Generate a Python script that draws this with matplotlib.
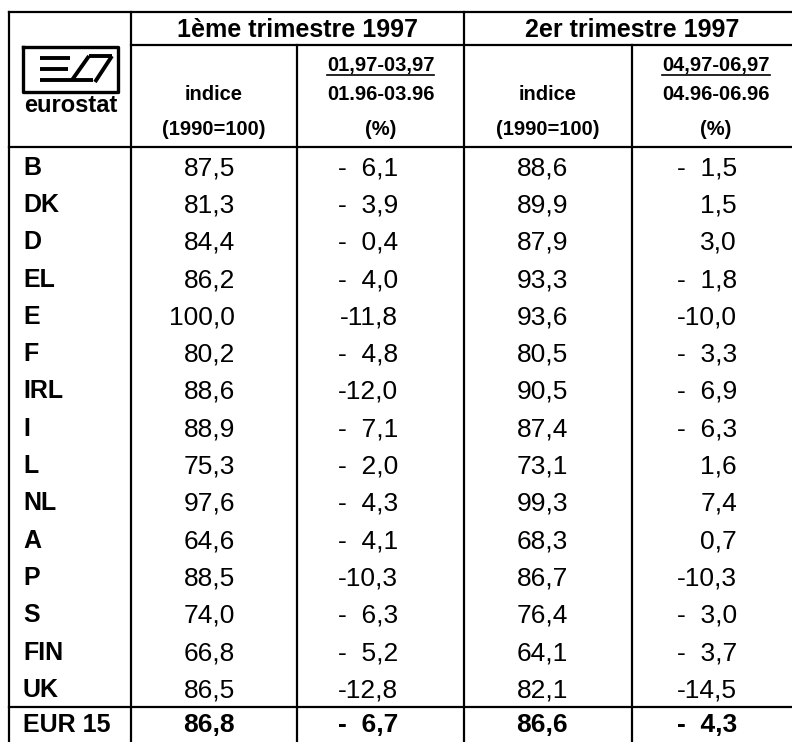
import matplotlib
matplotlib.use("Agg")
import matplotlib.pyplot as plt

plt.rcParams['font.family'] = ['Liberation Sans', 'DejaVu Sans']

# donnees
countries = ['B', 'DK', 'D', 'EL', 'E', 'F', 'IRL', 'I', 'L', 'NL', 'A', 'P', 'S', 'FIN', 'UK']
q1_index = [87.5, 81.3, 84.4, 86.2, 100.0, 80.2, 88.6, 88.9, 75.3, 97.6, 64.6, 88.5, 74.0, 66.8, 86.5]
q1_change = [-6.1, -3.9, -0.4, -4.0, -11.8, -4.8, -12.0, -7.1, -2.0, -4.3, -4.1, -10.3, -6.3, -5.2, -12.8]
q2_index = [88.6, 89.9, 87.9, 93.3, 93.6, 80.5, 90.5, 87.4, 73.1, 99.3, 68.3, 86.7, 76.4, 64.1, 82.1]
q2_change = [-1.5, 1.5, 3.0, -1.8, -10.0, -3.3, -6.9, -6.3, 1.6, 7.4, 0.7, -10.3, -3.0, -3.7, -14.5]
total_label = 'EUR 15'
total_values = [86.8, -6.7, 86.6, -4.3]

quarters = ['1ème trimestre 1997', '2er trimestre 1997']
periods = [('01,97-03,97', '01.96-03.96'), ('04,97-06,97', '04.96-06.96')]


def fmt_index(v):
    return f"{v:.1f}".replace('.', ',')


def fmt_change(v):
    if -10 < v < 0:
        return "-  " + f"{-v:.1f}".replace('.', ',')
    return f"{v:.1f}".replace('.', ',')


fig = plt.figure(figsize=(7.92, 7.42), dpi=100)
ax = fig.add_axes([0, 0, 1, 1])
ax.set_xlim(0, 792)
ax.set_ylim(742, 0)
ax.axis('off')

# grille (pixels)
cols = [9, 131, 297, 464, 632, 800]
y_top, y_mid, y_head = 12, 45, 147
pitch = 37.3
y_total = y_head + pitch * len(countries)
lw = 1.6


def txt(x, y, s, fs, ha='center', bold=False):
    # y = centre des majuscules
    return ax.text(x, y + fs * 0.5, s, fontsize=fs, ha=ha, va='baseline',
                   fontweight='bold' if bold else 'normal', color='black')


# lignes
ax.plot([cols[0], 792], [y_top, y_top], color='k', lw=lw)
ax.plot([cols[1], 792], [y_mid, y_mid], color='k', lw=lw)
ax.plot([cols[0], 792], [y_head, y_head], color='k', lw=lw)
ax.plot([cols[0], 792], [y_total, y_total], color='k', lw=lw)
for x in [cols[0], cols[1], cols[3]]:
    ax.plot([x, x], [y_top, 742], color='k', lw=lw)
for x in [cols[2], cols[4]]:
    ax.plot([x, x], [y_mid, 742], color='k', lw=lw)

# logo eurostat
ax.plot([23, 118, 118, 23, 23], [47, 47, 92, 92, 47], color='k', lw=2.4)
logo_lines = [([40, 70], [58, 58]), ([40, 68], [69, 69]), ([40, 93], [80, 80]),
              ([72, 89], [80, 56]), ([95, 112], [82, 56]), ([89, 112], [56, 56])]
for lx, ly in logo_lines:
    ax.plot(lx, ly, color='k', lw=2.8, solid_capstyle='butt')
txt(71, 103, 'eurostat', 17, bold=True)

# en-tetes
fig.canvas.draw()
renderer = fig.canvas.get_renderer()
inv = ax.transData.inverted()
for k, q in enumerate(quarters):
    xa, xb, xc = cols[1 + 2 * k], cols[2 + 2 * k], cols[3 + 2 * k]
    txt((xa + xc) / 2, 28, q, 18, bold=True)
    txt((xa + xb) / 2, 93, 'indice', 14.5, bold=True)
    txt((xa + xb) / 2, 128, '(1990=100)', 14.5, bold=True)
    t = txt((xb + xc) / 2, 64, periods[k][0], 14.5, bold=True)
    txt((xb + xc) / 2, 93, periods[k][1], 14.5, bold=True)
    txt((xb + xc) / 2, 128, '(%)', 14.5, bold=True)
    bb = t.get_window_extent(renderer)
    (x0, _), (x1, _) = inv.transform([(bb.x0, 0), (bb.x1, 0)])
    ax.plot([x0, x1], [74.5, 74.5], color='k', lw=1.2)

# valeurs
right = [235, 398, 568, 737]
fs = 19
for i, c in enumerate(countries):
    yc = y_head + pitch * (i + 0.5)
    txt(23, yc, c, 18, ha='left', bold=True)
    vals = [fmt_index(q1_index[i]), fmt_change(q1_change[i]),
            fmt_index(q2_index[i]), fmt_change(q2_change[i])]
    for x, s in zip(right, vals):
        txt(x, yc, s, fs, ha='right')

yc = y_total + 16
txt(23, yc, total_label, 18, ha='left', bold=True)
fmts = [fmt_index, fmt_change, fmt_index, fmt_change]
for x, f, v in zip(right, fmts, total_values):
    txt(x, yc, f(v), fs, ha='right', bold=True)

fig.savefig('out.png', dpi=100)
